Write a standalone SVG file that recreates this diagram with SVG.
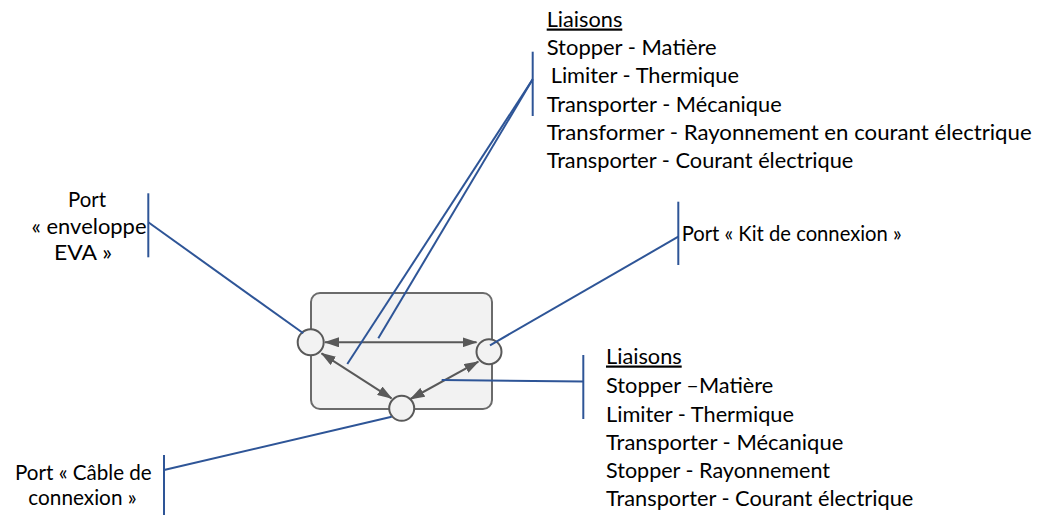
<svg xmlns="http://www.w3.org/2000/svg" width="1044" height="515" viewBox="0 0 1044 515">
<defs>
<style>
.t{font-family:Lato,"Liberation Sans","DejaVu Sans",sans-serif;font-size:22px;fill:#000}
.u{text-decoration:underline}
.blue{stroke:#2E5597;stroke-width:2;fill:none}
.arr{stroke:#595959;stroke-width:2;fill:none;marker-start:url(#ah);marker-end:url(#ah)}
.port{fill:#f2f2f2;stroke:#595959;stroke-width:2}
</style>
<marker id="ah" markerUnits="userSpaceOnUse" markerWidth="15" markerHeight="10" viewBox="0 0 15 10" refX="14" refY="5" orient="auto-start-reverse">
<path d="M0,0 L15,5 L0,10 z" fill="#595959"/>
</marker>
</defs>
<rect width="1044" height="515" fill="#ffffff"/>

<g id="block">
<rect x="311" y="293" width="181" height="116" rx="9" ry="9" fill="#f2f2f2" stroke="#6b6b6b" stroke-width="2"/>
</g>

<g id="internal-arrows">
<line class="arr" x1="325" y1="342.3" x2="476.5" y2="342.3"/>
<line class="arr" x1="321.5" y1="353.3" x2="391.5" y2="398.3"/>
<line class="arr" x1="478.3" y1="361.7" x2="410.5" y2="399"/>
</g>

<g id="port-left"><circle class="port" cx="310.7" cy="342.3" r="13"/></g>
<g id="port-right"><circle class="port" cx="489" cy="351.7" r="12.5"/></g>
<g id="port-bottom"><circle class="port" cx="401.7" cy="408.3" r="12.5"/></g>

<g id="connectors">
<line class="blue" x1="148.3" y1="222.3" x2="303.3" y2="333.3"/>
<line class="blue" x1="678.3" y1="236.7" x2="490" y2="345.3"/>
<line class="blue" x1="164" y1="470" x2="391.7" y2="416.7"/>
<line class="blue" x1="441.7" y1="380" x2="583.3" y2="381.5"/>
<line class="blue" x1="532.7" y1="79.3" x2="347.3" y2="364"/>
<line class="blue" x1="532.7" y1="79.3" x2="378.3" y2="338.3"/>
</g>

<g id="label-eva">
<line class="blue" x1="148.3" y1="193.3" x2="148.3" y2="257.3"/>
<text class="t" x="87" y="207" text-anchor="middle" textLength="38" lengthAdjust="spacingAndGlyphs">Port</text>
<text class="t" x="89" y="234" text-anchor="middle" textLength="115" lengthAdjust="spacingAndGlyphs">« enveloppe</text>
<text class="t" x="83" y="259.5" text-anchor="middle" textLength="58" lengthAdjust="spacingAndGlyphs">EVA »</text>
</g>

<g id="label-kit">
<line class="blue" x1="678.3" y1="201.7" x2="678.3" y2="265"/>
<text class="t" x="681.7" y="241" textLength="220" lengthAdjust="spacingAndGlyphs">Port « Kit de connexion »</text>
</g>

<g id="label-cable">
<line class="blue" x1="164" y1="455" x2="164" y2="515"/>
<text class="t" x="15" y="480" textLength="136.7" lengthAdjust="spacingAndGlyphs">Port « Câble de</text>
<text class="t" x="28.3" y="505" textLength="108.4" lengthAdjust="spacingAndGlyphs">connexion »</text>
</g>

<g id="liaisons-top">
<line class="blue" x1="532.7" y1="51.7" x2="532.7" y2="116"/>
<text class="t u" x="546.7" y="26.5" textLength="75.6" lengthAdjust="spacingAndGlyphs">Liaisons</text>
<text class="t" x="546.7" y="55" textLength="170" lengthAdjust="spacingAndGlyphs">Stopper - Matière</text>
<text class="t" x="550.7" y="83.3" textLength="188.3" lengthAdjust="spacingAndGlyphs">Limiter - Thermique</text>
<text class="t" x="546.7" y="111.5" textLength="235" lengthAdjust="spacingAndGlyphs">Transporter - Mécanique</text>
<text class="t" x="546.7" y="140" textLength="485" lengthAdjust="spacingAndGlyphs">Transformer - Rayonnement en courant électrique</text>
<text class="t" x="546.7" y="168" textLength="306.6" lengthAdjust="spacingAndGlyphs">Transporter - Courant électrique</text>
</g>

<g id="liaisons-bottom">
<line class="blue" x1="583.3" y1="355" x2="583.3" y2="419"/>
<text class="t u" x="606" y="363.5" textLength="75.7" lengthAdjust="spacingAndGlyphs">Liaisons</text>
<text class="t" x="606" y="393" textLength="167.3" lengthAdjust="spacingAndGlyphs">Stopper –Matière</text>
<text class="t" x="606" y="421.5" textLength="188" lengthAdjust="spacingAndGlyphs">Limiter - Thermique</text>
<text class="t" x="606" y="450" textLength="237.3" lengthAdjust="spacingAndGlyphs">Transporter - Mécanique</text>
<text class="t" x="606" y="478" textLength="224" lengthAdjust="spacingAndGlyphs">Stopper - Rayonnement</text>
<text class="t" x="606" y="506" textLength="307.3" lengthAdjust="spacingAndGlyphs">Transporter - Courant électrique</text>
</g>
</svg>
